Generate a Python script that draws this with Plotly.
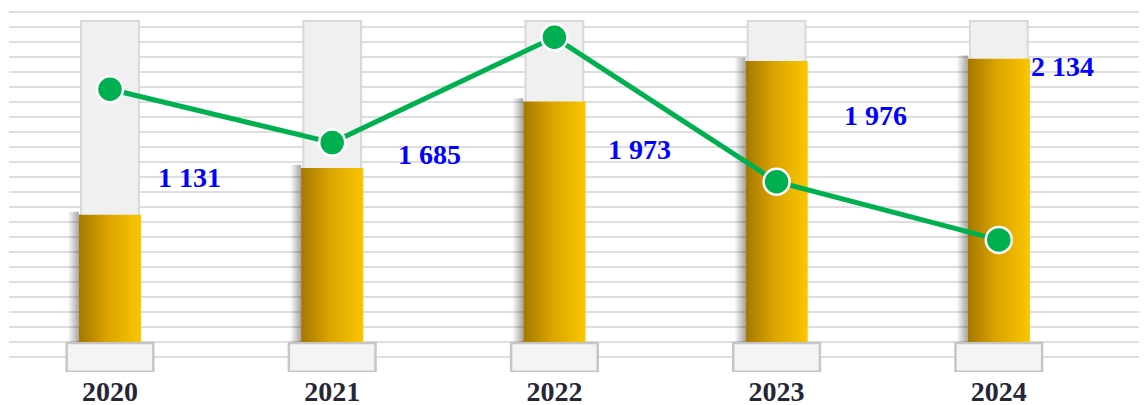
import plotly.graph_objects as go
import numpy as np

# values
years = ['2020', '2021', '2022', '2023', '2024']
value_labels = ['1 131', '1 685', '1 973', '1 976', '2 134']
bar_level = [39.6, 54.2, 74.9, 87.5, 88.2]      # gold column, % of the grey column
line_level = [78.7, 62.1, 94.9, 49.9, 31.8]     # green line, same scale
capacity = [100, 100, 100, 100, 100]

# label placement (layout only)
label_dx = [0.36, 0.44, 0.385, 0.443, 0.285]
label_y = [51.1, 58.3, 60.1, 70.4, 85.7]

x = np.arange(len(years))
gold_w = 0.28
shadow_w = 0.05

fig = go.Figure()

# grey background columns
fig.add_trace(go.Bar(x=x, y=capacity, width=0.26,
                     marker=dict(color='#f0f0f0', line=dict(color='#d8d8d8', width=2)),
                     hoverinfo='skip', showlegend=False))
# pedestals under each column
fig.add_trace(go.Bar(x=x, y=[9.0] * len(x), base=-9.3, width=0.39,
                     marker=dict(color='#f4f4f4', line=dict(color='#c6c6c6', width=2.5)),
                     hoverinfo='skip', showlegend=False))

# gold columns with horizontal gradient and a soft left shadow
for xi, v in zip(x, bar_level):
    l, r = xi - gold_w / 2, xi + gold_w / 2
    fig.add_trace(go.Scatter(x=[l - shadow_w, l, l, l - shadow_w, l - shadow_w],
                             y=[0, 0, v + 1, v + 1, 0], mode='lines', line=dict(width=0),
                             fill='toself',
                             fillgradient=dict(type='horizontal',
                                               colorscale=[[0, 'rgba(0,0,0,0)'], [1, 'rgba(0,0,0,0.35)']]),
                             hoverinfo='skip', showlegend=False))
    fig.add_trace(go.Scatter(x=[l, r, r, l, l], y=[0, 0, v, v, 0], mode='lines',
                             line=dict(width=0), fill='toself',
                             fillgradient=dict(type='horizontal',
                                               colorscale=[[0, '#a47800'], [0.45, '#daa300'], [1, '#fac600']]),
                             hoverinfo='skip', showlegend=False))

# green line
fig.add_trace(go.Scatter(x=x, y=line_level, mode='lines+markers',
                         line=dict(color='#00b050', width=5),
                         marker=dict(size=26, color='#00b050', line=dict(color='white', width=2.5)),
                         hoverinfo='skip', showlegend=False))

for xi, t, dx, ly in zip(x, value_labels, label_dx, label_y):
    fig.add_annotation(x=xi + dx, y=ly, text='<b>%s</b>' % t, showarrow=False,
                       font=dict(family='Liberation Serif', size=28, color='#0000ff'))

grid = np.arange(-1, 23) * 4.673
# page body keeps an 8px margin, so the figure is sized to fit inside it
fig.update_layout(
    width=1139, height=397,
    margin=dict(l=1, r=0, t=2, b=33),
    paper_bgcolor='white', plot_bgcolor='white',
    barmode='overlay',
    xaxis=dict(range=[-0.4545, 4.667], tickvals=x, ticktext=['<b>%s</b>' % y for y in years],
               tickfont=dict(family='Liberation Serif', size=28, color='#262637'),
               ticklabelstandoff=0, automargin=False,
               showgrid=False, zeroline=False, showline=False, ticks=''),
    yaxis=dict(range=[-9.35, 103.4], tickvals=grid, showticklabels=False, automargin=False,
               showgrid=True, gridcolor='#dedede', gridwidth=1.5, zeroline=False, showline=False),
)

fig.write_html("out.html")
